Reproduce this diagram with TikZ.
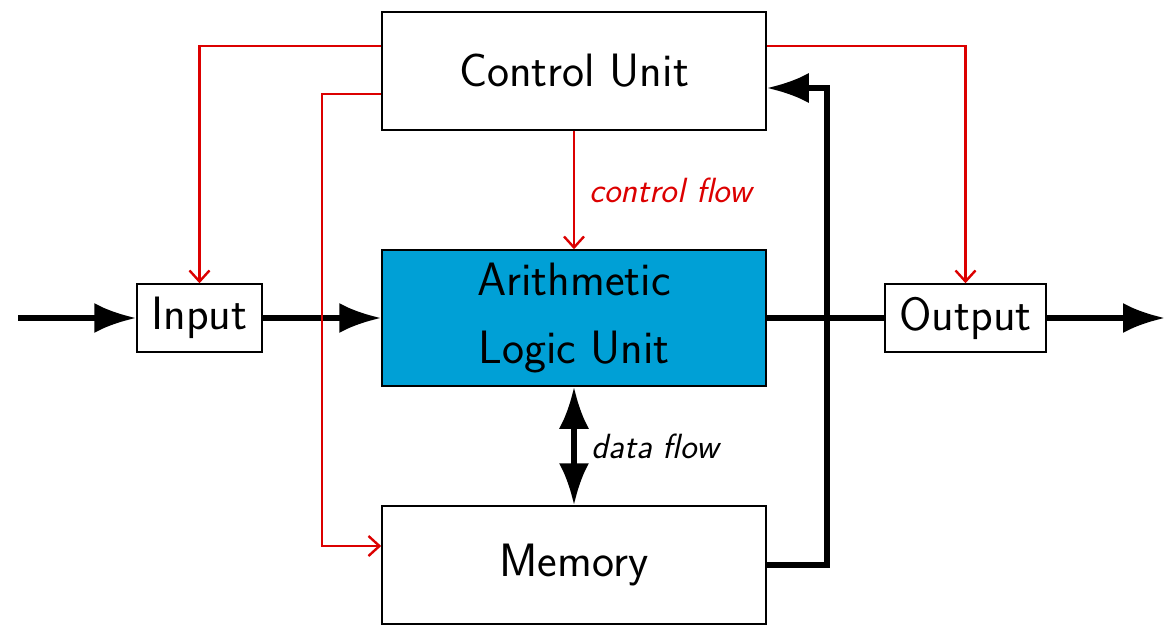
\documentclass[tikz,border=0pt]{standalone}
\usetikzlibrary{arrows.meta}

\definecolor{alublue}{RGB}{0,160,214}
\definecolor{ctrlred}{RGB}{220,0,0}

\tikzset{
    unit/.style={draw, line width=0.75pt, minimum width=192pt, minimum height=59pt,
        align=center, font=\fontsize{23.4}{34}\selectfont\sffamily},
    port/.style={draw, line width=0.75pt, minimum height=34pt,
        font=\fontsize{23.4}{28}\selectfont\sffamily},
    data/.style={line width=2.8pt, ->},
    ctrl/.style={ctrlred, line width=1.2pt, -{Straight Barb[length=5.5pt,width=10pt]}},
    flowlabel/.style={font=\fontsize{17.5}{21}\selectfont\sffamily\itshape}
}

\begin{document}
\begin{tikzpicture}[x=0.5pt, y=-0.5pt, >={Latex[length=21pt,width=15pt]}]
            \useasboundingbox (0,0) rectangle (1168,633);

            % units
            \node[unit] (cu) at (574,71) {Control Unit};
            \node[unit, fill=alublue, minimum height=68pt] (alu) at (574,318) {Arithmetic\\Logic Unit};
            \node[unit] (mem) at (574,565) {Memory};
            \node[port, minimum width=62.5pt] (in) at (199.5,318) {Input};
            \node[port, minimum width=80.5pt] (out) at (965.5,318) {Output};
            \coordinate (src) at (18,318);
            \coordinate (sink) at (1165,318);

            % data flow
            \draw[data] (src) -- (in);
            \draw[data] (in) -- (alu);
            \draw[line width=2.8pt] (alu) -- (out);
            \draw[data] (out) -- (sink);
            \draw[data] (mem.east) -- ++(60,0) |- (cu.east |- 0,88);
            \draw[data, <->] (alu) -- (mem) node[midway, right=4pt, flowlabel] {data flow};

            % control flow
            \draw[ctrl] (cu.west |- 0,46) -| (in);
            \draw[ctrl] (cu.west |- 0,94) -| (322,546) -- (mem.west |- 0,546);
            \draw[ctrl] (cu) -- (alu) node[midway, right=4pt, flowlabel, ctrlred] {control flow};
            \draw[ctrl] (cu.east |- 0,46) -| (out);
\end{tikzpicture}
\end{document}
